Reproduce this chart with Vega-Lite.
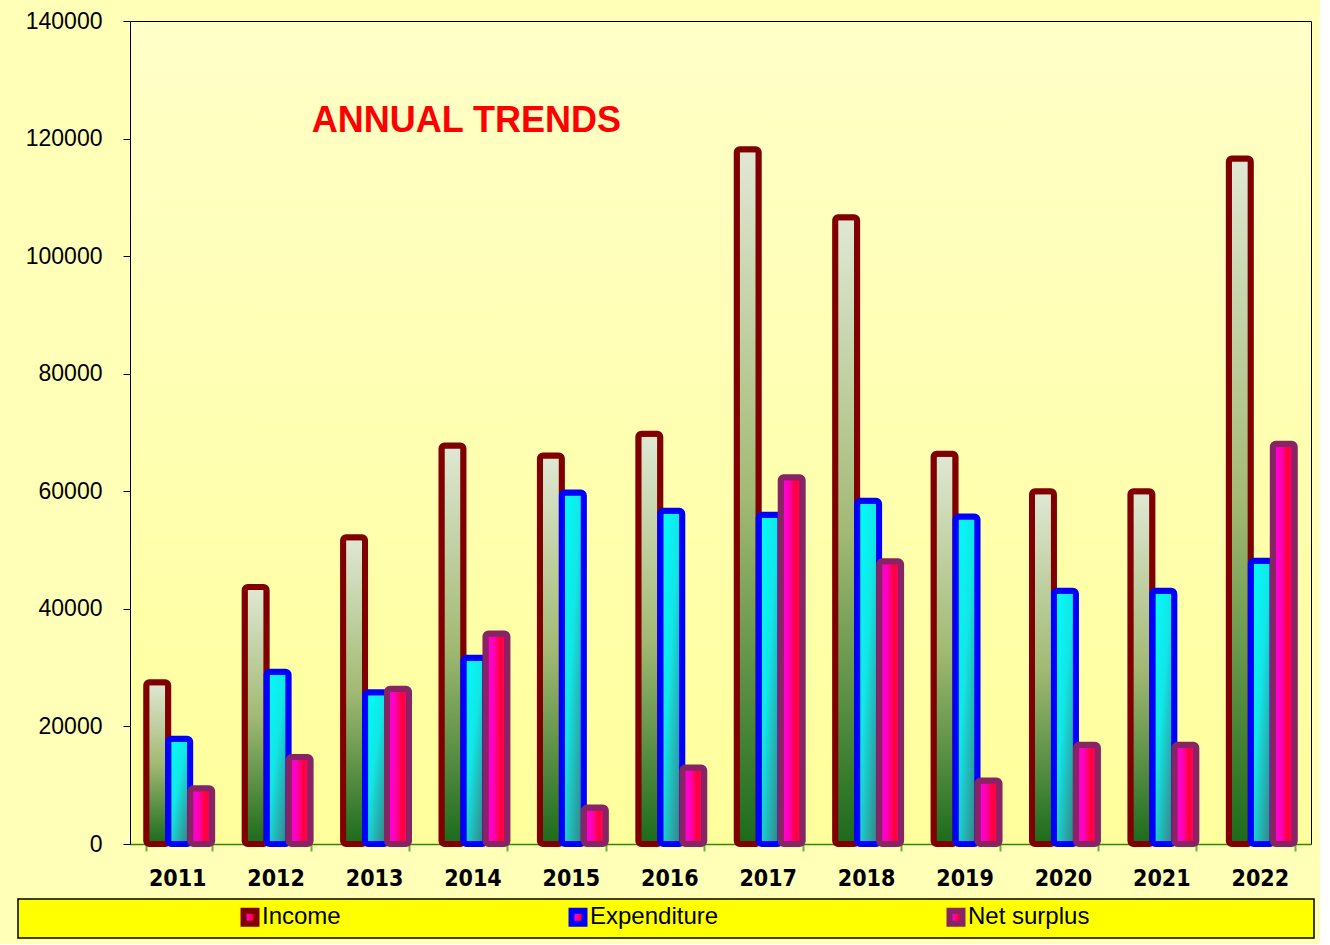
{
  "$schema": "https://vega.github.io/schema/vega-lite/v6.json",
  "background": "#FFFFB8",
  "padding": {"left": 17, "top": 9, "right": 5, "bottom": 5},
  "spacing": 7,
  "config": {"font": "Liberation Sans"},
  "vconcat": [
    {
      "spacing": 0,
      "hconcat": [
        {
          "width": 1,
          "height": 1,
          "view": {"stroke": null, "fill": null},
          "data": {"values": [{"t": ""}]},
          "mark": {"type": "text"},
          "encoding": {"text": {"field": "t"}}
        },
        {
          "width": 1181,
          "height": 823,
          "view": {
            "fill": {"gradient": "linear", "x1": 0, "y1": 0, "x2": 0, "y2": 1, "stops": [{"offset": 0, "color": "#FFFFC8"}, {"offset": 1, "color": "#FFFF9C"}]},
            "stroke": "#000000",
            "strokeWidth": 1
          },
          "layer": [
            {
              "data": {
                "values": [
                  {"year": "2011", "series": "Income", "value": 27500},
                  {"year": "2011", "series": "Expenditure", "value": 17900},
                  {"year": "2011", "series": "Net surplus", "value": 9500},
                  {"year": "2012", "series": "Income", "value": 43700},
                  {"year": "2012", "series": "Expenditure", "value": 29300},
                  {"year": "2012", "series": "Net surplus", "value": 14800},
                  {"year": "2013", "series": "Income", "value": 52200},
                  {"year": "2013", "series": "Expenditure", "value": 25800},
                  {"year": "2013", "series": "Net surplus", "value": 26400},
                  {"year": "2014", "series": "Income", "value": 67800},
                  {"year": "2014", "series": "Expenditure", "value": 31700},
                  {"year": "2014", "series": "Net surplus", "value": 35800},
                  {"year": "2015", "series": "Income", "value": 66100},
                  {"year": "2015", "series": "Expenditure", "value": 59800},
                  {"year": "2015", "series": "Net surplus", "value": 6200},
                  {"year": "2016", "series": "Income", "value": 69800},
                  {"year": "2016", "series": "Expenditure", "value": 56700},
                  {"year": "2016", "series": "Net surplus", "value": 13000},
                  {"year": "2017", "series": "Income", "value": 118200},
                  {"year": "2017", "series": "Expenditure", "value": 56000},
                  {"year": "2017", "series": "Net surplus", "value": 62400},
                  {"year": "2018", "series": "Income", "value": 106600},
                  {"year": "2018", "series": "Expenditure", "value": 58400},
                  {"year": "2018", "series": "Net surplus", "value": 48100},
                  {"year": "2019", "series": "Income", "value": 66400},
                  {"year": "2019", "series": "Expenditure", "value": 55700},
                  {"year": "2019", "series": "Net surplus", "value": 10800},
                  {"year": "2020", "series": "Income", "value": 60000},
                  {"year": "2020", "series": "Expenditure", "value": 43100},
                  {"year": "2020", "series": "Net surplus", "value": 16900},
                  {"year": "2021", "series": "Income", "value": 60000},
                  {"year": "2021", "series": "Expenditure", "value": 43100},
                  {"year": "2021", "series": "Net surplus", "value": 16900},
                  {"year": "2022", "series": "Income", "value": 116600},
                  {"year": "2022", "series": "Expenditure", "value": 48200},
                  {"year": "2022", "series": "Net surplus", "value": 68100}
                ]
              },
              "mark": {"type": "bar", "strokeWidth": 6, "cornerRadius": 3, "clip": false},
              "encoding": {
                "x": {
                  "field": "year", "type": "nominal",
                  "scale": {"paddingInner": 0.33, "paddingOuter": 0.165},
                  "axis": {
                    "title": null, "labelAngle": 0,
                    "labelFont": "DejaVu Sans Condensed, DejaVu Sans",
                    "labelFontWeight": "bold", "labelFontSize": 23, "labelColor": "#000000",
                    "labelPadding": 16, "labelOffset": -2,
                    "domainColor": "#2E8B00", "domainWidth": 1.5,
                    "tickColor": "#5DB83A", "tickWidth": 2, "tickSize": 7, "tickBand": "extent"
                  }
                },
                "xOffset": {
                  "field": "series", "type": "nominal",
                  "scale": {"domain": ["Income", "Expenditure", "Net surplus"], "paddingInner": 0, "paddingOuter": 0}
                },
                "y": {
                  "field": "value", "type": "quantitative",
                  "scale": {"domain": [0, 140000], "nice": false},
                  "axis": {
                    "title": ".", "titleFontSize": 2, "titleOpacity": 0, "titlePadding": 0,
                    "grid": false,
                    "values": [0, 20000, 40000, 60000, 80000, 100000, 120000, 140000],
                    "format": "d",
                    "labelFont": "Liberation Sans", "labelFontSize": 23, "labelColor": "#000000",
                    "labelPadding": 21, "labelFlush": false,
                    "tickSize": 7, "tickColor": "#000000", "domainColor": "#000000",
                    "minExtent": 108
                  }
                },
                "stroke": {
                  "field": "series", "type": "nominal",
                  "scale": {"domain": ["Income", "Expenditure", "Net surplus"], "range": ["#800000", "#0000FF", "#862464"]},
                  "legend": {
                    "title": null, "orient": "none", "legendX": 220, "legendY": 884,
                    "direction": "horizontal", "columns": 3, "columnPadding": 218,
                    "symbolType": "square", "symbolSize": 169, "symbolStrokeWidth": 6,
                    "symbolFillColor": "#AABB88",
                    "labelFont": "Liberation Sans", "labelFontSize": 24, "labelColor": "#000000",
                    "labelOffset": 0,
                    "encode": {
                      "symbols": {
                        "update": {
                          "fill": {"signal": "datum.value === 'Income' ? '#A8BC80' : datum.value === 'Expenditure' ? '#22C8DD' : '#FF0055'"}
                        }
                      }
                    }
                  }
                },
                "fill": {
                  "condition": [
                    {
                      "test": "datum.series === 'Income'",
                      "value": {"gradient": "linear", "x1": 0, "y1": 0, "x2": 0, "y2": 1, "stops": [{"offset": 0, "color": "#E0E8D4"}, {"offset": 0.5, "color": "#A2BA74"}, {"offset": 1, "color": "#1B6B1B"}]}
                    },
                    {
                      "test": "datum.series === 'Expenditure'",
                      "value": {"gradient": "linear", "x1": 0, "y1": 0, "x2": 1, "y2": 1, "stops": [{"offset": 0, "color": "#00FFFF"}, {"offset": 0.45, "color": "#12E6E6"}, {"offset": 1, "color": "#3A7878"}]}
                    }
                  ],
                  "value": {"gradient": "linear", "x1": 0, "y1": 0, "x2": 1, "y2": 0, "stops": [{"offset": 0, "color": "#FF00E0"}, {"offset": 0.35, "color": "#FF00C0"}, {"offset": 0.7, "color": "#FF0030"}, {"offset": 1, "color": "#FF00A0"}]}
                }
              }
            },
            {
              "data": {"values": [{"label": "ANNUAL TRENDS", "year": "2014", "pos": 123000}]},
              "mark": {"type": "text", "font": "Liberation Sans", "fontWeight": "bold", "fontSize": 36, "color": "#FF0000", "align": "center", "baseline": "middle", "dx": -8},
              "encoding": {
                "text": {"field": "label"},
                "x": {"field": "year", "type": "nominal", "bandPosition": 0.5},
                "y": {"field": "pos", "type": "quantitative"}
              }
            }
          ]
        }
      ]
    },
    {
      "width": 1296,
      "height": 39,
      "view": {"fill": "#FFFF00", "stroke": "#000000", "strokeWidth": 1.5},
      "data": {"values": [{"t": ""}]},
      "mark": {"type": "text"},
      "encoding": {"text": {"field": "t"}}
    }
  ]
}
